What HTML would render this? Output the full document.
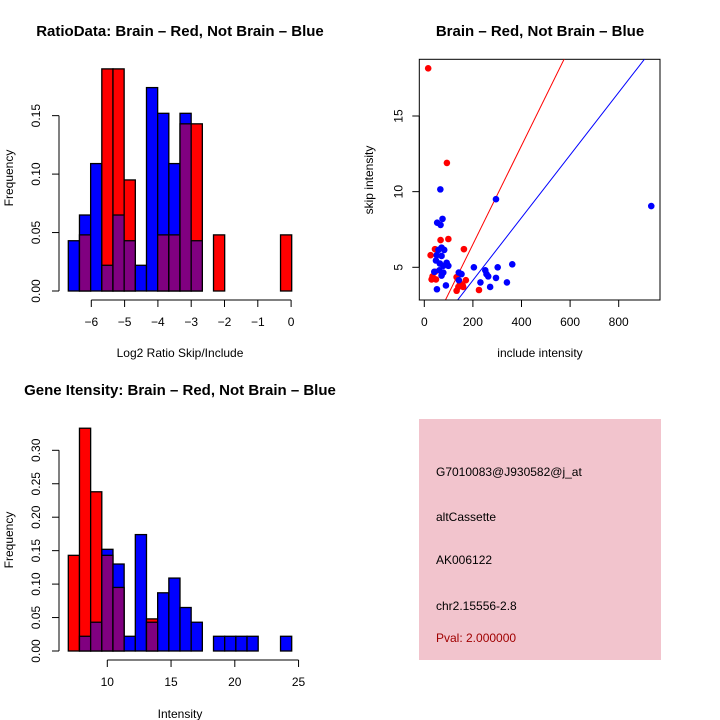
<!DOCTYPE html>
<html><head><meta charset="utf-8"><style>
body{margin:0;background:#fff}
svg{display:block;font-family:"Liberation Sans",sans-serif}
</style></head><body>
<svg id="c" width="720" height="720" viewBox="0 0 720 720" xmlns="http://www.w3.org/2000/svg"></svg>
<script>
// Panel 1: ratio histogram
const ratioBlue=[0.043,0.065,0.109,0.022,0.065,0.043,0.022,0.174,0.152,0.109,0.152,0.043,0,0,0,0,0,0,0,0];
const ratioRed=[0,0.048,0,0.19,0.19,0.095,0,0,0.048,0.048,0.143,0.143,0,0.048,0,0,0,0,0,0.048];
const ratioXTicks=[-6,-5,-4,-3,-2,-1,0];
const ratioYTicks=[0,0.05,0.10,0.15];
// Panel 2: scatter
const redX=[16,93,67,99,44,26,163,34,30,48,133,171,147,140,160,133,225,158,44];
const redY=[18.15,11.9,6.8,6.87,6.2,5.8,6.2,4.4,4.2,4.2,4.35,4.15,3.95,3.7,3.7,3.45,3.5,3.8,4.7];
const blueX=[934,295,66,75,53,67,71,82,51,71,48,92,78,99,62,78,41,71,204,251,256,263,302,362,295,231,271,340,142,153,142,89,52,58,64];
const blueY=[9.05,9.5,10.15,8.2,7.95,7.8,6.3,6.15,5.8,5.75,5.45,5.3,5.1,5.1,4.8,4.65,4.7,4.45,5,4.8,4.55,4.4,5,5.2,4.3,4,3.7,4,4.65,4.55,4.15,3.8,3.55,6.15,5.25];
const lineSlopes=[0.0326,0.0207];
const scatXTicks=[0,200,400,600,800];
const scatYTicks=[5,10,15];
// Panel 3: intensity histogram
const intBlue=[0,0.022,0.043,0.152,0.130,0.022,0.174,0.043,0.087,0.109,0.065,0.043,0,0.022,0.022,0.022,0.022,0,0,0.022];
const intRed=[0.143,0.333,0.238,0.143,0.095,0,0,0.048,0,0,0,0,0,0,0,0,0,0,0,0];
const intXTicks=[10,15,20,25];
const intYTicks=[0,0.05,0.10,0.15,0.20,0.25,0.30];

const svg=document.getElementById('c');
const NS='http://www.w3.org/2000/svg';
function el(t,a,txt){const e=document.createElementNS(NS,t);for(const k in a)e.setAttribute(k,a[k]);if(txt!==undefined)e.textContent=txt;svg.appendChild(e);return e;}
function txt(x,y,s,o){o=o||{};const e=el('text',{x:x,y:y,'font-size':o.size||12,'text-anchor':o.anchor||'middle',fill:o.fill||'#000','font-weight':o.bold?'bold':'normal'},s);if(o.rot)e.setAttribute('transform','rotate(-90 '+x+' '+y+')');return e;}

function hist(blue,red,x0,bw,y0,sy,name){
  for(let i=0;i<blue.length;i++){
    const b=blue[i],r=red[i],x=x0+i*bw;
    const big=Math.max(b,r),small=Math.min(b,r);
    if(big>0){const e=el('rect',{x:x,y:y0-big*sy,width:bw,height:big*sy,fill:b>=r?'#0000ff':'#ff0000',stroke:'#000','stroke-width':1.3});
      
      }
    if(small>0){const e=el('rect',{x:x,y:y0-small*sy,width:bw,height:small*sy,fill:'#800080',stroke:'#000','stroke-width':1.3});
      
      }
  }
}
function yaxis(x,ticks,f,fmt,off){
  el('line',{x1:x,x2:x,y1:f(ticks[0]),y2:f(ticks[ticks.length-1]),stroke:'#000'});
  ticks.forEach(t=>{el('line',{x1:x-7,x2:x,y1:f(t),y2:f(t),stroke:'#000'});
    const e=txt(x-off,f(t),fmt(t),{rot:true});});
}
function xaxis(y,ticks,f,lab){
  el('line',{x1:f(ticks[0]),x2:f(ticks[ticks.length-1]),y1:y,y2:y,stroke:'#000'});
  ticks.forEach(t=>{el('line',{x1:f(t),x2:f(t),y1:y,y2:y+7,stroke:'#000'});
    const e=txt(f(t),y+26,lab(t));});
}

// Panel 1
{const y0=291,sy=1169,x0=68.3,bw=11.17;
 const fx=v=>91.3+(v+6)*33.3;
 hist(ratioBlue,ratioRed,x0,bw,y0,sy,'ratio');
 yaxis(59,ratioYTicks,v=>y0-v*sy,v=>v.toFixed(2),19);
 xaxis(300,ratioXTicks,fx,v=>v<0?'\u2212'+(-v):''+v);
 let t=txt(180,36,'RatioData: Brain \u2013 Red, Not Brain \u2013 Blue',{size:15,bold:true});
 t=txt(180,357,'Log2 Ratio Skip/Include');
 t=txt(13,178,'Frequency',{rot:true});}

// Panel 2
{const fx=v=>424.3+v*0.243, fy=v=>267.3-(v-5)*15.13;
 const box=el('rect',{x:419.3,y:59.3,width:240.7,height:240.7,fill:'none',stroke:'#000'});
 
 const cl=el('clipPath',{id:'cp'});const cr=document.createElementNS(NS,'rect');
 cr.setAttribute('x',419.3);cr.setAttribute('y',59.3);cr.setAttribute('width',240.7);cr.setAttribute('height',240.7);cl.appendChild(cr);
 const cols=['#ff0000','#0000ff'];
 lineSlopes.forEach((s,i)=>{const l=el('line',{x1:fx(0),y1:fy(0),x2:fx(1000),y2:fy(s*1000),stroke:cols[i],'clip-path':'url(#cp)'});
   });
 redX.forEach((x,i)=>{const c=el('circle',{cx:fx(x),cy:fy(redY[i]),r:3.3,fill:'#ff0000'});
   });
 blueX.forEach((x,i)=>{const c=el('circle',{cx:fx(x),cy:fy(blueY[i]),r:3.3,fill:'#0000ff'});
   });
 xaxis(300,scatXTicks,fx,v=>''+v);
 yaxis(419.3,scatYTicks,fy,v=>''+v,17);
 let t=txt(540,36,'Brain \u2013 Red, Not Brain \u2013 Blue',{size:15,bold:true});
 t=txt(540,357,'include intensity');
 t=txt(373,180,'skip intensity',{rot:true});}

// Panel 3
{const y0=651,sy=669,x0=68.3,bw=11.17;
 const fx=v=>107.3+(v-10)*12.75;
 hist(intBlue,intRed,x0,bw,y0,sy,'intensity');
 yaxis(59,intYTicks,v=>y0-v*sy,v=>v.toFixed(2),19);
 xaxis(660,intXTicks,fx,v=>''+v);
 let t=txt(180,395,'Gene Itensity: Brain \u2013 Red, Not Brain \u2013 Blue',{size:15,bold:true});
 t=txt(180,718,'Intensity');
 t=txt(13,540,'Frequency',{rot:true});}

// Info box
{const b=el('rect',{x:419,y:419,width:242,height:241,fill:'#f2c4cd'});
 
 const lines=[['G7010083@J930582@j_at',476,'#000'],['altCassette',521,'#000'],['AK006122',564,'#000'],['chr2.15556-2.8',610,'#000'],['Pval: 2.000000',642,'#a00000']];
 lines.forEach(l=>{const t=txt(436,l[1],l[0],{anchor:'start',fill:l[2]});});}
</script>
</body></html>
